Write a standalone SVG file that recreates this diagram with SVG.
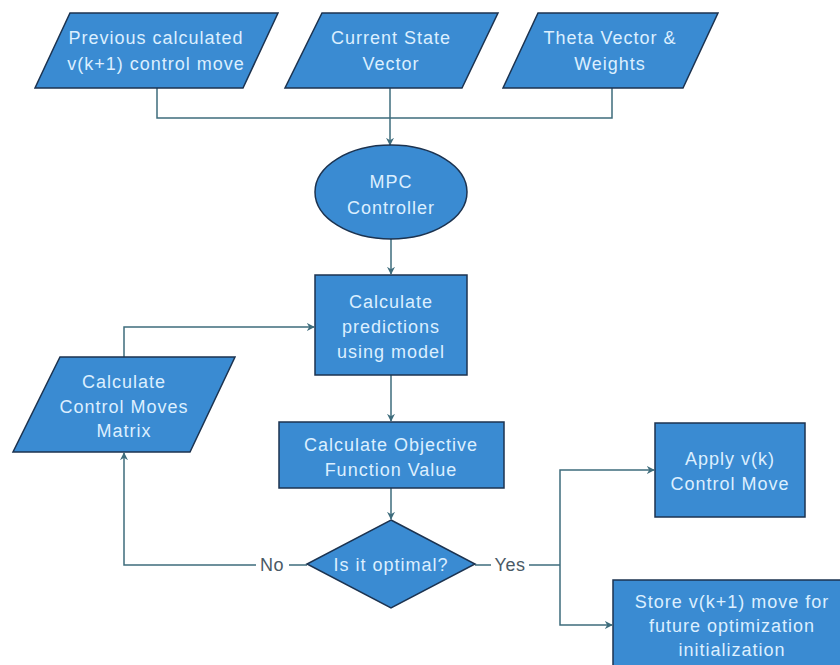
<svg xmlns="http://www.w3.org/2000/svg" width="840" height="665" viewBox="0 0 840 665">
<style>
.shape{fill:#3a8bd2;stroke:#1c3350;stroke-width:1.5}
.t{font-family:"Liberation Sans",Arial,sans-serif;font-size:18px;fill:#dcefff;text-anchor:middle;letter-spacing:1px}
.lbl{font-family:"Liberation Sans",Arial,sans-serif;font-size:18px;fill:#4a5a66;text-anchor:middle;letter-spacing:0.5px}
.c{fill:none;stroke:#3e6c7c;stroke-width:1.5}
</style>
<defs>
<marker id="ah" viewBox="0 0 10 10" refX="9" refY="5" markerWidth="8" markerHeight="8" markerUnits="userSpaceOnUse" orient="auto">
<path d="M0,0 L10,5 L0,10 L3,5 z" fill="#3e6c7c"/>
</marker>
</defs>
<rect width="840" height="665" fill="#ffffff"/>
<g id="connectors">
<polyline class="c" points="157,88 157,118 612,118 612,88"/>
<line class="c" x1="390" y1="88" x2="390" y2="145" marker-end="url(#ah)"/>
<line class="c" x1="391" y1="239" x2="391" y2="274" marker-end="url(#ah)"/>
<line class="c" x1="391" y1="375" x2="391" y2="421" marker-end="url(#ah)"/>
<line class="c" x1="391" y1="488" x2="391" y2="519" marker-end="url(#ah)"/>
<polyline class="c" points="124,357 124,327 314,327" marker-end="url(#ah)"/>
<line class="c" x1="307" y1="565" x2="289" y2="565"/>
<polyline class="c" points="256,565 124,565 124,453" marker-end="url(#ah)"/>
<line class="c" x1="475" y1="565" x2="491" y2="565"/>
<line class="c" x1="529" y1="565" x2="560" y2="565"/>
<polyline class="c" points="560,565 560,470 654,470" marker-end="url(#ah)"/>
<polyline class="c" points="560,565 560,625 612,625" marker-end="url(#ah)"/>
<text class="lbl" x="272" y="571">No</text>
<text class="lbl" x="510" y="571">Yes</text>
</g>
<g id="prev">
<polygon class="shape" points="70,13 278,13 243,88 35,88"/>
<text class="t" x="156" y="44">Previous calculated</text>
<text class="t" x="156" y="70">v(k+1) control move</text>
</g>
<g id="state">
<polygon class="shape" points="322,13 498,13 462,88 285,88"/>
<text class="t" x="391" y="44">Current State</text>
<text class="t" x="391" y="70">Vector</text>
</g>
<g id="theta">
<polygon class="shape" points="538,13 718,13 683,88 503,88"/>
<text class="t" x="610" y="44">Theta Vector &amp;</text>
<text class="t" x="610" y="70">Weights</text>
</g>
<g id="mpc">
<ellipse class="shape" cx="391" cy="192" rx="76" ry="47"/>
<text class="t" x="391" y="188">MPC</text>
<text class="t" x="391" y="214">Controller</text>
</g>
<g id="predict">
<rect class="shape" x="315" y="275" width="152" height="100"/>
<text class="t" x="391" y="308">Calculate</text>
<text class="t" x="391" y="333">predictions</text>
<text class="t" x="391" y="358">using model</text>
</g>
<g id="moves">
<polygon class="shape" points="60,357 235,357 190,452 13,452"/>
<text class="t" x="124" y="388">Calculate</text>
<text class="t" x="124" y="413">Control Moves</text>
<text class="t" x="124" y="437">Matrix</text>
</g>
<g id="objective">
<rect class="shape" x="279" y="422" width="225" height="66"/>
<text class="t" x="391" y="451">Calculate Objective</text>
<text class="t" x="391" y="476">Function Value</text>
</g>
<g id="optimal">
<polygon class="shape" points="391,520 475,564 391,608 307,564"/>
<text class="t" x="391" y="571">Is it optimal?</text>
</g>
<g id="apply">
<rect class="shape" x="655" y="423" width="150" height="94"/>
<text class="t" x="730" y="465">Apply v(k)</text>
<text class="t" x="730" y="490">Control Move</text>
</g>
<g id="store">
<rect class="shape" x="613" y="580" width="240" height="100"/>
<text class="t" x="732" y="608">Store v(k+1) move for</text>
<text class="t" x="732" y="632">future optimization</text>
<text class="t" x="732" y="656">initialization</text>
</g>
</svg>
